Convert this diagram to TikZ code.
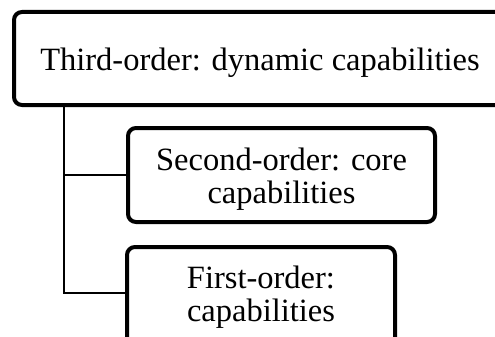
\documentclass[tikz,border=0pt]{standalone}
\usepackage{fontspec}
\setmainfont{Liberation Serif}
\begin{document}
\begin{tikzpicture}[x=1pt,y=-1pt,
  box/.style={draw=black, line width=4pt, rounded corners=8pt, align=center,
    font=\fontsize{32.5}{33}\selectfont, inner sep=0pt},
  conn/.style={draw=black, line width=1.4pt}]
\useasboundingbox (0,0) rectangle (495,337);
\begin{scope}
\clip (0,0) rectangle (495,337);
\node[box, minimum width=492pt, minimum height=93pt, text height=24.4pt, text depth=0pt] (third) at (260,58.5) {Third-order: dynamic capabilities};
\node[box, minimum width=307pt, minimum height=94pt, text height=60pt, text depth=4pt] (second) at (281.5,175) {Second-order: core\\capabilities};
\node[box, minimum width=268pt, minimum height=100pt] (first) at (261,297) {First-order:\\capabilities};
\coordinate (top) at (64,0 |- third.south);
\coordinate (j1) at (64,0 |- second.west);
\coordinate (j2) at (64,293);
\draw[conn] (top) -- (j2) -- (j2 -| first.west);
\draw[conn] (j1) -- (second.west);
\end{scope}
\end{tikzpicture}
\end{document}
